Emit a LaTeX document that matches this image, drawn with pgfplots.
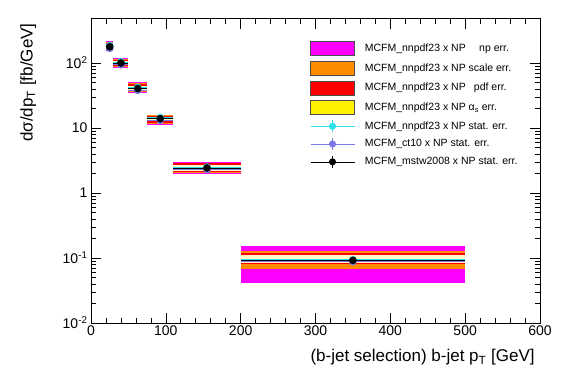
\documentclass[border=0pt]{standalone}
\usepackage{pgfplots}
\pgfplotsset{compat=1.18}
\usepackage{fontspec}
\setmainfont{Liberation Sans}
\definecolor{rmag}{RGB}{255,0,255}
\definecolor{rorange}{RGB}{255,140,0}
\definecolor{rred}{RGB}{255,0,0}
\definecolor{ryellow}{RGB}{255,250,200}
\definecolor{rcyan}{RGB}{40,225,235}
\definecolor{rblue}{RGB}{120,120,230}
\newcommand{\band}[5]{\addplot[fill=#5,draw=none,forget plot] coordinates {(#1,#3) (#2,#3) (#2,#4) (#1,#4)} -- cycle;}
\newcommand{\boxentry}[2]{\addlegendimage{legend image code/.code={\draw[fill=#1,draw=black!70,line width=0.5pt] (0pt,-7pt) rectangle (44pt,7pt);}}\addlegendentry{#2}}
\newcommand{\ptentry}[2]{\addlegendimage{legend image code/.code={\draw[#1,line width=0.6pt] (0pt,0pt) -- (44pt,0pt); \draw[#1,line width=0.6pt] (22pt,-6pt) -- (22pt,6pt); \fill[#1] (22pt,0pt) circle (3.3pt);}}\addlegendentry{#2}}
\begin{document}
\begin{tikzpicture}
\useasboundingbox (-91pt,-61pt) rectangle (476pt,323pt);
\begin{axis}[
  at={(0pt,0pt)}, anchor=south west,
  scale only axis, width=449pt, height=304.3pt,
  xmin=0, xmax=600, ymin=0.01, ymax=480,
  ymode=log,
  xtick={0,100,200,300,400,500,600},
  minor x tick num=4,
  ytick={0.01,0.1,1,10,100},
  yticklabels={10\textsuperscript{-2},10\textsuperscript{-1},1,10,10\textsuperscript{2}},
  /pgf/number format/assume math mode=true,
  tick label style={font=\fontsize{14}{16}\selectfont},
  xticklabel style={yshift=1pt},
  major tick length=10pt, minor tick length=5pt,
  tick style={black, line width=0.6pt},
  axis line style={line width=0.8pt},
  xlabel={(b-jet selection) b-jet p\textsubscript{T} [GeV]},
  ylabel={dσ/dp\textsubscript{T} [fb/GeV]},
  label style={font=\fontsize{17}{19}\selectfont},
  xlabel style={at={(axis description cs:0.996,-0.112)}, anchor=east},
  ylabel style={at={(axis description cs:-0.140,0.996)}, anchor=east, rotate=0},
  legend style={at={(axis description cs:0.4878,0.927)}, anchor=north west, draw=none, fill=none,
    font=\fontsize{10.5}{12}\selectfont, row sep=5.2pt, inner sep=0pt,
    nodes={inner sep=0pt}},
  legend cell align=left,
  legend style={/tikz/every odd column/.append style={column sep=10pt}},
]
% bin 1
\band{20}{30}{155}{215}{rmag}
\band{20}{30}{158}{210}{rorange}
\band{20}{30}{163}{205}{rred}
\band{20}{30}{168}{195}{ryellow}
% bin 2
\band{30}{50}{84}{119}{rmag}
\band{30}{50}{86}{117}{rorange}
\band{30}{50}{90}{113}{rred}
\band{30}{50}{94}{108}{ryellow}
% bin 3
\band{50}{75}{34.7}{50.5}{rmag}
\band{50}{75}{35.5}{49.5}{rorange}
\band{50}{75}{37}{47.5}{rred}
\band{50}{75}{38.5}{44}{ryellow}
% bin 4
\band{75}{110}{11.1}{16.1}{rmag}
\band{75}{110}{11.4}{15.8}{rorange}
\band{75}{110}{12}{15.3}{rred}
\band{75}{110}{13}{14.8}{ryellow}
% bin 5
\band{110}{200}{1.95}{3.0}{rmag}
\band{110}{200}{2.0}{2.9}{rorange}
\band{110}{200}{2.08}{2.85}{rred}
\band{110}{200}{2.2}{2.65}{ryellow}
% bin 6
\band{200}{500}{0.041}{0.155}{rmag}
\band{200}{500}{0.068}{0.127}{rorange}
\band{200}{500}{0.080}{0.121}{rred}
\band{200}{500}{0.084}{0.112}{ryellow}
% stat points
\addplot[only marks, mark=*, mark size=3.6pt, color=rblue, forget plot,
  error bars/.cd, x dir=both, x explicit, y dir=both, y explicit,
  error bar style={line width=0.6pt}, error mark=none]
  coordinates {(25,168) +- (5,4) (40,94) +- (10,2) (62.5,38) +- (12.5,0.8) (92.5,13.1) +- (17.5,0.3) (155,2.30) +- (45,0.05) (350,0.088) +- (150,0.002)};
\addplot[only marks, mark=*, mark size=3.6pt, color=rcyan, forget plot,
  error bars/.cd, x dir=both, x explicit, y dir=both, y explicit,
  error bar style={line width=0.6pt}, error mark=none]
  coordinates {(25,185) +- (5,4) (40,104) +- (10,2) (62.5,42) +- (12.5,0.8) (92.5,14.4) +- (17.5,0.3) (155,2.50) +- (45,0.05) (350,0.094) +- (150,0.002)};
\addplot[only marks, mark=*, mark size=3.6pt, color=black, forget plot,
  error bars/.cd, x dir=both, x explicit, y dir=both, y explicit,
  error bar style={line width=0.6pt}, error mark=none]
  coordinates {(25,178) +- (5,4) (40,100) +- (10,2) (62.5,40.4) +- (12.5,0.8) (92.5,13.9) +- (17.5,0.3) (155,2.43) +- (45,0.05) (350,0.092) +- (150,0.002)};
% legend
\boxentry{rmag}{MCFM\_nnpdf23 x NP \quad np err.}
\boxentry{rorange}{MCFM\_nnpdf23 x NP scale err.}
\boxentry{rred}{MCFM\_nnpdf23 x NP \enspace pdf err.}
\boxentry{yellow}{MCFM\_nnpdf23 x NP α\textsubscript{s} err.}
\ptentry{rcyan}{MCFM\_nnpdf23 x NP stat. err.}
\ptentry{rblue}{MCFM\_ct10 x NP stat. err.}
\ptentry{black}{MCFM\_mstw2008 x NP stat. err.}
\end{axis}
\end{tikzpicture}
\end{document}
